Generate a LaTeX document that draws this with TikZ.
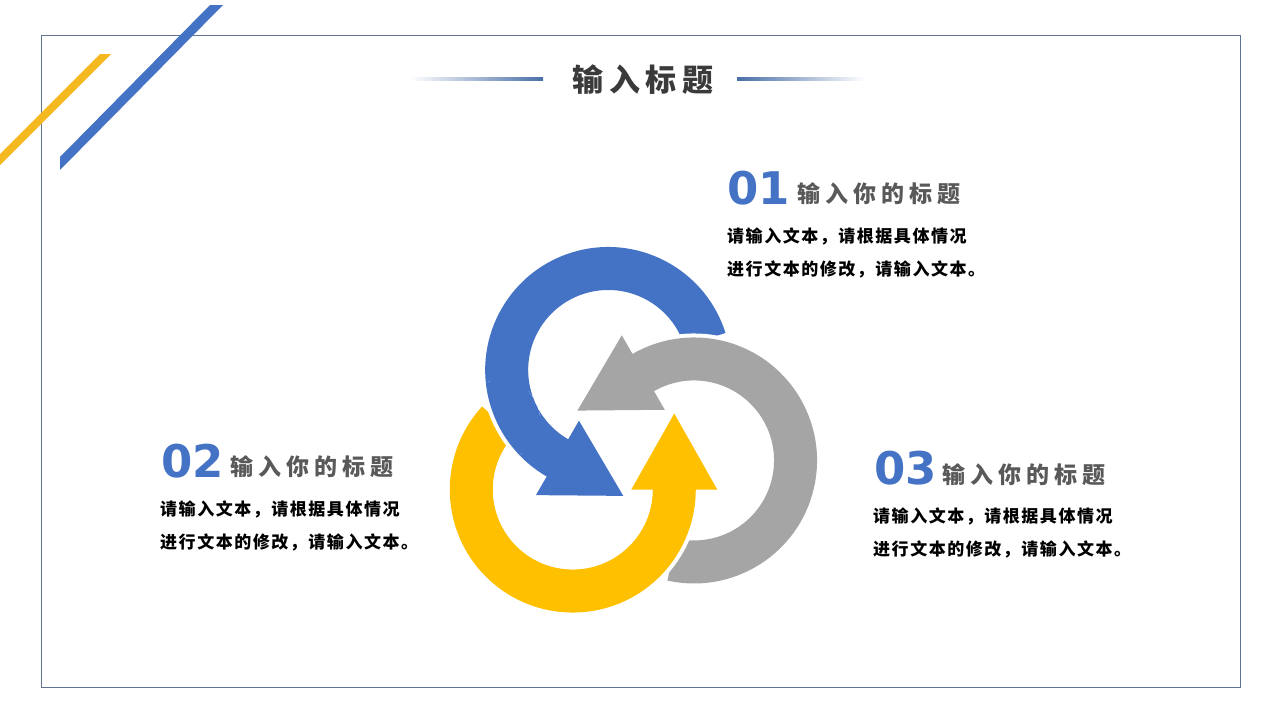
\documentclass[tikz,border=0pt]{standalone}
\usepackage{fontspec}
\usepackage{tikz}
\usetikzlibrary{calc}
\newfontfamily\cjk{Noto Sans CJK SC}
\newfontfamily\numfont{DejaVu Sans}
\definecolor{ringblue}{HTML}{4472C4}
\definecolor{ringgray}{HTML}{A5A5A5}
\definecolor{ringyellow}{HTML}{FFC000}
\definecolor{stripeyellow}{HTML}{F6B81F}
\definecolor{framegray}{HTML}{5E7592}
\definecolor{titleblue}{HTML}{4A6FA8}
\definecolor{titletext}{HTML}{3A3A3A}
\definecolor{headgray}{HTML}{595959}
\tikzset{
  ring/.style={fill=#1,preaction={draw=white,line width=8,line join=round}},
  numtext/.style={anchor=west,inner sep=0,text=ringblue,font=\numfont\bfseries\fontsize{45}{45}\selectfont},
  headtext/.style={anchor=west,inner sep=0,text=headgray,font=\cjk\bfseries\fontsize{23}{23}\selectfont\addfontfeatures{LetterSpace=22}},
  bodytext/.style={anchor=west,inner sep=0,align=left,font=\cjk\bfseries\fontsize{17}{33}\selectfont\addfontfeatures{LetterSpace=9}}
}

\begin{document}
\begin{tikzpicture}[x=1pt,y=-1pt]
        \useasboundingbox[fill=white] (0,0) rectangle (1280,720);
        \draw[framegray,line width=1] (41,35) rectangle (1240,687);
        % corner stripes
        \fill[stripeyellow] (0,154) -- (100,54) -- (111,54) -- (0,165) -- cycle;
        \fill[ringblue] (60,157) -- (210,5) -- (223,5) -- (60,170) -- cycle;
        % title
        \shade[left color=white,right color=titleblue] (410,77.5) rectangle (543,80.5);
        \shade[left color=titleblue,right color=white] (737,77.5) rectangle (865,80.5);
        \node[inner sep=0,text=titletext,font=\cjk\bfseries\fontsize{31}{31}\selectfont\addfontfeatures{LetterSpace=18}] (title) at (643,80) {输入标题};
        % three ring arrows
        \foreach \col/\rot in {ringblue/0,ringgray/-120,ringyellow/-240}{
          \begin{scope}[shift={(625,440)},rotate=\rot,shift={(-103.5:72)}]
            \path[ring=\col] (-17.5:123) arc[start angle=-17.5,end angle=-240,radius=123] -- (-240:144.5) -- (15.1,125.9) -- (-240:58.5) -- (-240:80) arc[start angle=-240,end angle=-17.5,radius=80] -- cycle;
          \end{scope}
        }
        \begin{scope}
          \clip (500,420) circle[radius=40];
          \begin{scope}[shift={(625,440)},shift={(-103.5:72)}]
            \path[ring=ringblue] (-17.5:123) arc[start angle=-17.5,end angle=-240,radius=123] -- (-240:144.5) -- (15.1,125.9) -- (-240:58.5) -- (-240:80) arc[start angle=-240,end angle=-17.5,radius=80] -- cycle;
          \end{scope}
        \end{scope}
        % texts
        \node[numtext] (num01) at (727,188.5) {01};
        \node[headtext] (head01) at (797,194) {输入你的标题};
        \node[bodytext] (body01) at (727,252.5) {请输入文本，请根据具体情况\\进行文本的修改，请输入文本。};
        \node[numtext] (num02) at (161,461) {02};
        \node[headtext] (head02) at (230,467) {输入你的标题};
        \node[bodytext] (body02) at (160,525.5) {请输入文本，请根据具体情况\\进行文本的修改，请输入文本。};
        \node[numtext] (num03) at (874,468.5) {03};
        \node[headtext] (head03) at (942,475) {输入你的标题};
        \node[bodytext] (body03) at (873,533) {请输入文本，请根据具体情况\\进行文本的修改，请输入文本。};
      \end{tikzpicture}
\end{document}
